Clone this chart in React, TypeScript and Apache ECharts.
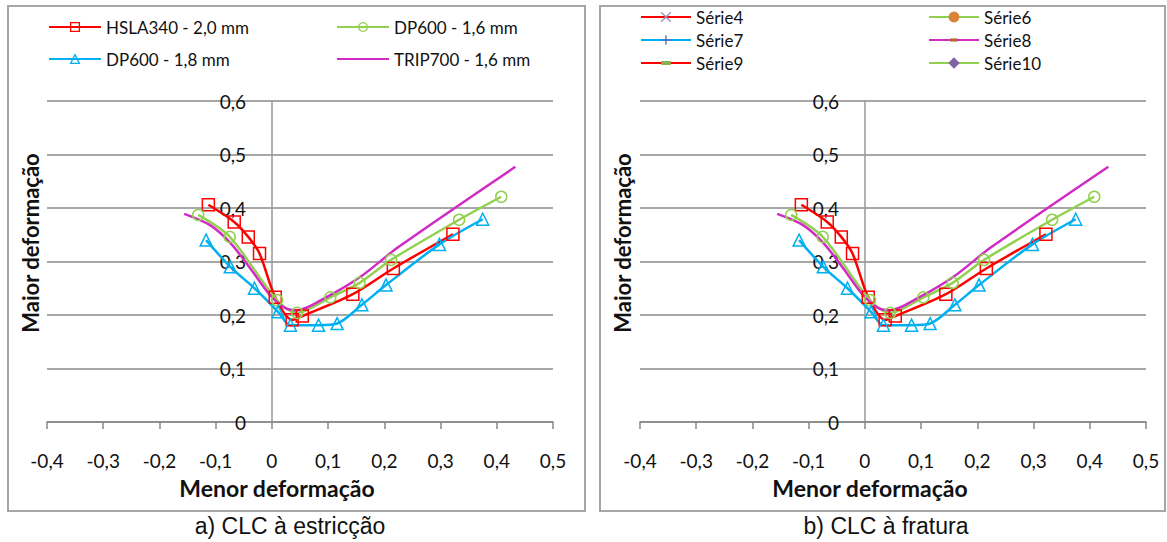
import React, { useEffect, useRef } from 'react';
import * as echarts from 'echarts';

// ---- data (minor strain x, major strain y) ----
const hsla340_20: [number, number][] = [
  [-0.113, 0.406], [-0.067, 0.374], [-0.042, 0.346], [-0.022, 0.315], [0.006, 0.233],
  [0.036, 0.191], [0.054, 0.198], [0.144, 0.239], [0.216, 0.287], [0.322, 0.351],
];
const dp600_16: [number, number][] = [
  [-0.131, 0.387], [-0.075, 0.346], [0.009, 0.228], [0.045, 0.204], [0.104, 0.233],
  [0.156, 0.26], [0.212, 0.303], [0.333, 0.378], [0.408, 0.421],
];
const dp600_18: [number, number][] = [
  [-0.117, 0.34], [-0.074, 0.29], [-0.031, 0.25], [0.011, 0.206], [0.033, 0.181],
  [0.083, 0.181], [0.116, 0.184], [0.16, 0.219], [0.203, 0.256], [0.298, 0.332], [0.375, 0.379],
];
const trip700_16: [number, number][] = [
  [-0.156, 0.389], [-0.11, 0.368], [-0.074, 0.335], [-0.039, 0.288], [-0.003, 0.237],
  [0.024, 0.213], [0.045, 0.209], [0.098, 0.234], [0.157, 0.271], [0.225, 0.327], [0.433, 0.477],
];

const namesA = ['HSLA340 - 2,0 mm', 'DP600 - 1,6 mm', 'DP600 - 1,8 mm', 'TRIP700 - 1,6 mm'];
const namesB = ['Série4', 'Série6', 'Série7', 'Série8', 'Série9', 'Série10'];
const yTitle = 'Maior deformação';
const xTitle = 'Menor deformação';
const captions = ['a) CLC à estricção', 'b) CLC à fratura'];

const RED = '#FF0000';
const GREEN = '#92D050';
const BLUE = '#00B0F0';
const MAGENTA = '#D22BC5';
const TXT = '#111111';
const GRIDC = '#8a8a8a';

const fmt = (v: number) => {
  const r = Math.round(v * 10) / 10;
  return r === 0 ? '0' : String(r).replace('.', ',');
};

const dataSeries = (g: number, name: string, data: [number, number][], color: string, symbol: string, size: number) => ({
  type: 'line',
  name,
  xAxisIndex: g,
  yAxisIndex: g,
  data,
  smooth: 0.3,
  symbol,
  symbolSize: size,
  showSymbol: symbol !== 'none',
  lineStyle: { color, width: 2.5 },
  itemStyle: { color: 'rgba(255,255,255,0)', borderColor: color, borderWidth: 1.5 },
  emphasis: { disabled: true },
});

const sq = (inner: string) => `path://M0,0h0.01v0.01h-0.01z${inner}M9.99,9.99h0.01v0.01h-0.01z`;

const dummy = (name: string, lineColor: string, symbol: string, fill: string, stroke: string) => ({
  type: 'line',
  name,
  xAxisIndex: 1,
  yAxisIndex: 1,
  data: [],
  symbol,
  lineStyle: { color: lineColor, width: 3 },
  itemStyle: { color: fill, borderColor: stroke, borderWidth: 1.5 },
});

export default function App() {
  const ref = useRef<HTMLDivElement>(null);
  useEffect(() => {
    if (!ref.current) return;
    const chart = echarts.init(ref.current, undefined, { renderer: 'svg' });
    const textStyle = { fontFamily: 'Lato', fontSize: 17, color: TXT, lineHeight: 20 };
    const legendBase = {
      orient: 'vertical',
      padding: 0,
      selectedMode: false,
      textStyle,
      itemStyle: { borderWidth: 1.3 },
    };
    const grids = [
      { left: 47, right: 614, top: 101, bottom: 120, outerBoundsMode: 'none' },
      { left: 640, right: 21, top: 101, bottom: 120, outerBoundsMode: 'none' },
    ];
    const xAxis = [0, 1].map((i) => ({
      type: 'value',
      gridIndex: i,
      min: -0.4,
      max: 0.5,
      interval: 0.1,
      axisLine: { show: true, onZero: false, lineStyle: { color: '#888', width: 1.5 } },
      axisTick: { show: true, length: 7, lineStyle: { color: '#888', width: 1.5 } },
      axisLabel: { margin: 29, fontSize: 19, fontFamily: 'Lato', color: TXT, formatter: fmt },
      splitLine: { show: false },
    }));
    const yAxis = [0, 1].map((i) => ({
      type: 'value',
      gridIndex: i,
      min: 0,
      max: 0.6,
      interval: 0.1,
      axisLine: { show: true, onZero: true, lineStyle: { color: '#999', width: 1.5 } },
      axisTick: { show: false },
      axisLabel: { margin: -199, fontSize: 19, fontFamily: 'Lato', color: TXT, formatter: fmt },
      splitLine: { show: true, lineStyle: { color: GRIDC, width: 1.5 } },
    }));
    const series: any[] = [];
    [0, 1].forEach((g) => {
      const p = g === 0 ? '' : 'b:';
      series.push(dataSeries(g, p + namesA[0], hsla340_20, RED, 'rect', 12));
      series.push(dataSeries(g, p + namesA[1], dp600_16, GREEN, 'circle', 11));
      series.push(dataSeries(g, p + namesA[2], dp600_18, BLUE, 'triangle', 12));
      series.push(dataSeries(g, p + namesA[3], trip700_16, MAGENTA, 'none', 1));
    });
    series.push(dummy(namesB[0], RED, 'path://M0,0L10,10M10,0L0,10', 'none', '#9a8fb5'));
    series.push(dummy(namesB[1], GREEN, 'circle', '#D9843B', '#D9843B'));
    series.push(dummy(namesB[2], BLUE, 'path://M5,0L5,10M0,5L10,5', 'none', '#4a72c0'));
    series.push(dummy(namesB[3], '#D42AC2', sq('M1,3.5h8v3h-8z'), '#B0603A', '#B0603A'));
    series.push(dummy(namesB[4], RED, sq('M0,3h10v4h-10z'), '#8DB04E', '#8DB04E'));
    series.push(dummy(namesB[5], GREEN, 'diamond', '#8064A2', '#8064A2'));

    const txt = (text: string, x: number, y: number, opts: any = {}) => ({
      type: 'text',
      x,
      y,
      rotation: opts.rotation || 0,
      style: {
        text,
        fill: TXT,
        fontFamily: opts.fontFamily || 'Lato',
        fontWeight: opts.fontWeight || 'bold',
        fontSize: opts.fontSize || 22,
        align: 'center',
        verticalAlign: 'middle',
      },
    });

    chart.setOption({
      animation: false,
      grid: grids,
      xAxis,
      yAxis,
      legend: [
        { ...legendBase, left: 48, top: 17, itemGap: 12, itemWidth: 52, itemHeight: 11, data: [{ name: namesA[0] }, { name: namesA[2] }] },
        { ...legendBase, left: 336, top: 17, itemGap: 12, itemWidth: 52, itemHeight: 11, data: [{ name: namesA[1] }, { name: namesA[3], itemStyle: { opacity: 0 } }] },
        { ...legendBase, left: 640, top: 7, itemGap: 3, itemWidth: 50, itemHeight: 12, data: [{ name: namesB[0] }, { name: namesB[2] }, { name: namesB[4], itemStyle: { borderWidth: 0 } }] },
        { ...legendBase, left: 928, top: 7, itemGap: 3, itemWidth: 50, itemHeight: 12, data: [{ name: namesB[1] }, { name: namesB[3], itemStyle: { borderWidth: 0 } }, { name: namesB[5] }] },
      ],
      graphic: [
        { type: 'rect', shape: { x: 8, y: 6, width: 577, height: 505 }, style: { fill: 'none', stroke: '#a6a6a6', lineWidth: 2 } },
        { type: 'rect', shape: { x: 600, y: 6, width: 565, height: 505 }, style: { fill: 'none', stroke: '#a6a6a6', lineWidth: 2 } },
        txt(yTitle, 30, 243, { rotation: Math.PI / 2 }),
        txt(yTitle, 622, 243, { rotation: Math.PI / 2 }),
        txt(xTitle, 277, 488, { fontSize: 23 }),
        txt(xTitle, 870, 488, { fontSize: 23 }),
        txt(captions[0], 290, 526, { fontFamily: 'Liberation Sans', fontWeight: 'normal', fontSize: 23 }),
        txt(captions[1], 886, 526, { fontFamily: 'Liberation Sans', fontWeight: 'normal', fontSize: 23 }),
      ],
      series,
    });
    return () => chart.dispose();
  }, []);
  return <div ref={ref} style={{ position: 'absolute', left: 0, top: 0, width: 1167, height: 542 }} />;
}
